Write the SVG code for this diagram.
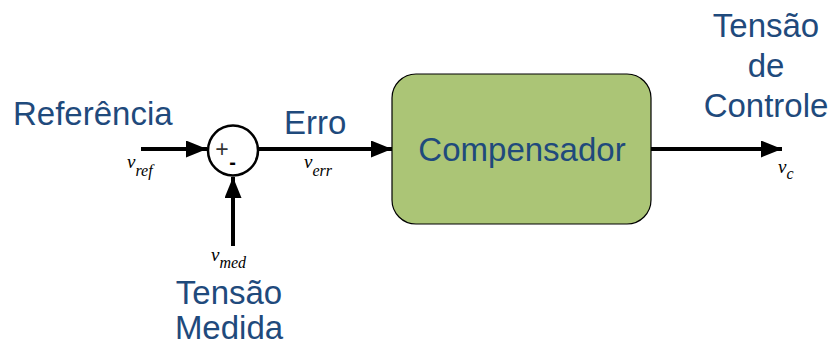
<svg xmlns="http://www.w3.org/2000/svg" width="831" height="345" viewBox="0 0 831 345">
<style>
.lbl{font-family:"Liberation Sans",Arial,sans-serif;font-size:33px;fill:#1f4a7c}
.math{font-family:"Liberation Serif","Times New Roman",serif;font-style:italic;font-size:19px;fill:#000}
.sub{font-size:16px}
.wire{stroke:#000;stroke-width:4;fill:none}
</style>
<defs>
<marker id="ah" markerUnits="userSpaceOnUse" markerWidth="22" markerHeight="18" refX="21" refY="8.5" orient="auto">
<path d="M0,0 L21,8.5 L0,17 Z" fill="#000"/>
</marker>
</defs>
<rect width="831" height="345" fill="#fff"/>
<g id="connectors">
<line class="wire" x1="141" y1="149" x2="207" y2="149" marker-end="url(#ah)"/>
<line class="wire" x1="233" y1="246" x2="233" y2="177" marker-end="url(#ah)"/>
<line class="wire" x1="259" y1="149" x2="392" y2="149" marker-end="url(#ah)"/>
<line class="wire" x1="651" y1="149" x2="782" y2="149" marker-end="url(#ah)"/>
</g>
<g id="sum">
<circle cx="233" cy="150.5" r="25" fill="#fff" stroke="#000" stroke-width="2.5"/>
<text x="222" y="157" font-family="Liberation Sans,Arial,sans-serif" font-size="23" text-anchor="middle" fill="#333">+</text>
<text x="232.5" y="169" font-family="Liberation Sans,Arial,sans-serif" font-size="20" font-weight="bold" text-anchor="middle" fill="#000">-</text>
</g>
<g id="compensador">
<rect x="392" y="74" width="259" height="150" rx="24" fill="#abc576" stroke="#000" stroke-width="1.2"/>
<text class="lbl" x="522" y="161" text-anchor="middle">Compensador</text>
</g>
<g id="referencia">
<text class="lbl" x="13" y="125">Referência</text>
<text class="math" x="127" y="168">v<tspan class="sub" dy="8">ref</tspan></text>
</g>
<g id="erro">
<text class="lbl" x="284" y="134">Erro</text>
<text class="math" x="304" y="168">v<tspan class="sub" dy="8">err</tspan></text>
</g>
<g id="medida">
<text class="math" x="211" y="261">v<tspan class="sub" dy="7">med</tspan></text>
<text class="lbl" x="229" y="304" text-anchor="middle">Tensão</text>
<text class="lbl" x="229" y="339" text-anchor="middle">Medida</text>
</g>
<g id="controle">
<text class="lbl" x="766" y="37" text-anchor="middle">Tensão</text>
<text class="lbl" x="766" y="77" text-anchor="middle">de</text>
<text class="lbl" x="766" y="117" text-anchor="middle">Controle</text>
<text class="math" x="778" y="173">v<tspan class="sub" dy="6">c</tspan></text>
</g>
</svg>
